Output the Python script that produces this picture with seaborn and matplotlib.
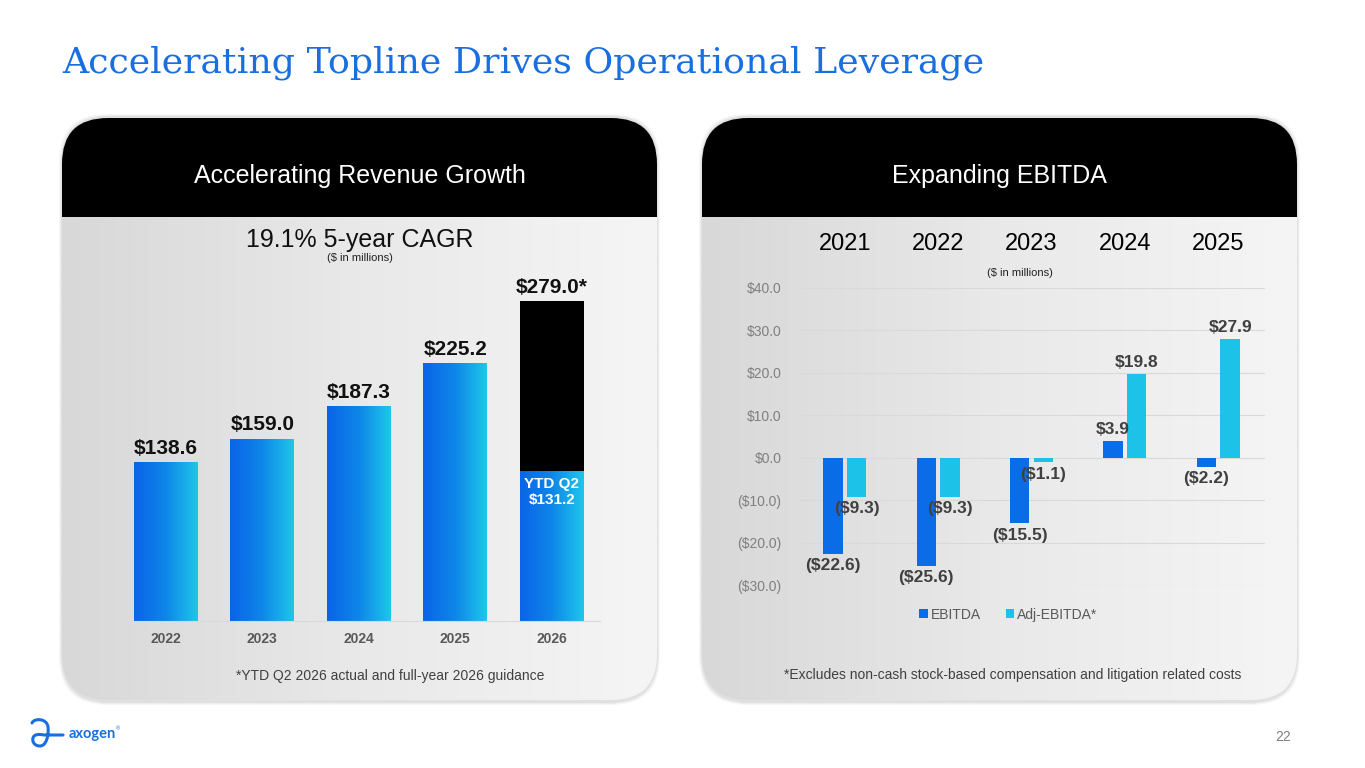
import numpy as np
import pandas as pd
import matplotlib
matplotlib.use('Agg')
import matplotlib.pyplot as plt
import seaborn as sns
from matplotlib.patches import FancyBboxPatch, Rectangle, PathPatch
from matplotlib.path import Path
from matplotlib.colors import LinearSegmentedColormap


# revenue panel
rev_years = ['2022', '2023', '2024', '2025', '2026']
rev_values = [138.6, 159.0, 187.3, 225.2, 279.0]
rev_labels = ['$138.6', '$159.0', '$187.3', '$225.2', '$279.0*']
ytd_2026 = 131.2

# ebitda panel
eb_years = ['2021', '2022', '2023', '2024', '2025']
ebitda = [-22.6, -25.6, -15.5, 3.9, -2.2]
adj_ebitda = [-9.3, -9.3, -1.1, 19.8, 27.9]

BLUE = '#0b6ce8'
CYAN = '#1cc2e8'
TITLE_BLUE = '#1a6fe0'


def money(v):
    return f'${v:.1f}' if v >= 0 else f'(${-v:.1f})'


sns.set_style('white')
plt.rcParams['font.family'] = ['Liberation Sans', 'DejaVu Sans']

W, H = 1365, 768
fig = plt.figure(figsize=(W / 100, H / 100), dpi=100)
fig.patch.set_facecolor('white')

# background axes in pixel units
bg = fig.add_axes([0, 0, 1, 1])
bg.set_xlim(0, W)
bg.set_ylim(H, 0)
bg.axis('off')
bg.set_zorder(0)

panel_cmap = LinearSegmentedColormap.from_list('panel', ['#d8d8d8', '#e9e9e9', '#f5f5f5'])
grad = np.linspace(0, 1, 256).reshape(1, -1)


def panel(x0, x1, y0, y1, head_y, header):
    # soft shadow
    for i, a in enumerate([0.05, 0.04, 0.03]):
        s = FancyBboxPatch((x0 - 1 - i, y0 - 2 - i), x1 - x0 + 2 + 2 * i, y1 - y0 + 5 + 2 * i,
                           boxstyle='round,pad=0,rounding_size=48', fc='black', ec='none', alpha=a)
        bg.add_patch(s)
    p = FancyBboxPatch((x0, y0), x1 - x0, y1 - y0, boxstyle='round,pad=0,rounding_size=46',
                       fc='#e6e6e6', ec='none')
    bg.add_patch(p)
    im = bg.imshow(grad, extent=[x0, x1, y1, y0], cmap=panel_cmap, aspect='auto', zorder=1)
    im.set_clip_path(p)
    r = Rectangle((x0, y0), x1 - x0, head_y - y0, fc='black', ec='none', zorder=2)
    bg.add_patch(r)
    r.set_clip_path(p)
    bg.text((x0 + x1) / 2, (y0 + head_y) / 2 + 8, header, color='white', fontsize=18,
            ha='center', va='center', zorder=3)


panel(62, 657, 118, 700, 217, 'Accelerating Revenue Growth')
panel(702, 1297, 118, 700, 217, 'Expanding EBITDA')
bg.set_xlim(0, W)
bg.set_ylim(H, 0)

bg.text(62, 72, 'Accelerating Topline Drives Operational Leverage', family='DejaVu Serif',
        fontsize=26.2, color=TITLE_BLUE, ha='left', va='baseline')

bg.text(360, 240, '19.1% 5-year CAGR', fontsize=18, ha='center', va='center', color='#111111', zorder=3)
bg.text(360, 258, '($ in millions)', fontsize=8, ha='center', va='center', color='#222222', zorder=3)
bg.text(390, 676, '*YTD Q2 2026 actual and full-year 2026 guidance', fontsize=10,
        ha='center', va='center', color='#404040', zorder=3)
bg.text(1013, 675, '*Excludes non-cash stock-based compensation and litigation related costs',
        fontsize=10, ha='center', va='center', color='#404040', zorder=3)
bg.text(1283, 737, '22', fontsize=10, ha='center', va='center', color='#808080')

# logo
logo = Path([(32, 723), (34, 718), (47, 718), (48, 727), (49, 736), (46, 746), (40, 746),
             (34, 746), (32, 741), (33, 738), (34, 734), (39, 734), (44, 735), (63, 735)],
            [Path.MOVETO] + [Path.CURVE4] * 12 + [Path.LINETO])
bg.add_patch(PathPatch(logo, fc='none', ec=TITLE_BLUE, lw=2.2, capstyle='round'))
bg.text(69, 734, 'axogen', family='Lato', fontweight='bold', fontsize=10.5,
        color=TITLE_BLUE, ha='left', va='center')
bg.text(116, 729, '®', fontsize=4, color=TITLE_BLUE, ha='left', va='center')

bar_cmap = LinearSegmentedColormap.from_list('bar', ['#0a64e8', '#0e86e8', '#1fc6ea'])


def gradient_bars(ax, bars):
    for b in bars:
        x, y = b.get_x(), b.get_y()
        w, h = b.get_width(), b.get_height()
        im = ax.imshow(grad, extent=[x, x + w, y, y + h], cmap=bar_cmap, aspect='auto', zorder=1.5)
        im.set_clip_path(b)


# ---- left chart ----
ax1 = fig.add_axes([132 / W, (H - 621) / H, 468 / W, 351 / H])
ax1.set_zorder(2)
ax1.patch.set_alpha(0)
lower = rev_values[:4] + [ytd_2026]
sns.barplot(x=rev_years, y=rev_values, color='black', width=0.66, errorbar=None, saturation=1,
            linewidth=0, ax=ax1)
sns.barplot(x=rev_years, y=lower, color=BLUE, width=0.66, errorbar=None, saturation=1,
            linewidth=0, ax=ax1)
gradient_bars(ax1, ax1.containers[1])
ax1.bar_label(ax1.containers[0], labels=rev_labels, padding=3, fontsize=15,
              fontweight='bold', color='#111111')
ax1.annotate(f'YTD Q2\n${ytd_2026:.1f}', xy=(4, ytd_2026), xytext=(0, -5), textcoords='offset points',
             ha='center', va='top', color='white', fontsize=11, fontweight='bold', zorder=4,
             linespacing=1.15)
ax1.set_xlim(-0.35, 4.5)
ax1.set_ylim(0, 306)
sns.despine(ax=ax1, left=True)
ax1.spines['bottom'].set_color('#d9d9d9')
ax1.set_yticks([])
ax1.tick_params(axis='x', length=0, pad=8, labelsize=10, labelcolor='#595959')
for t in ax1.get_xticklabels():
    t.set_fontweight('bold')

# ---- right chart ----
df = pd.DataFrame({
    'year': eb_years * 2,
    'metric': ['EBITDA'] * 5 + ['Adj-EBITDA*'] * 5,
    'value': ebitda + adj_ebitda,
})
ax2 = fig.add_axes([798 / W, (H - 585) / H, 467 / W, 297 / H])
ax2.set_zorder(2)
ax2.patch.set_alpha(0)
sns.barplot(data=df, x='year', y='value', hue='metric', palette=[BLUE, CYAN], width=0.505,
            gap=0.17, errorbar=None, saturation=1, linewidth=0, ax=ax2)
for cont in ax2.containers:
    ax2.bar_label(cont, labels=[money(b.get_height()) for b in cont], padding=3,
                  fontsize=12.5, fontweight='bold', color='#404040')
ax2.set_ylim(-30, 40)
ax2.set_xlim(-0.5, 4.5)
ax2.set_yticks(range(-30, 41, 10))
ax2.set_yticklabels([money(v) for v in range(-30, 41, 10)])
ax2.yaxis.grid(True, color='#d9d9d9', lw=0.8)
ax2.set_axisbelow(True)
sns.despine(ax=ax2, left=True, bottom=True)
ax2.set_xlabel('')
ax2.set_ylabel('')
ax2.xaxis.tick_top()
ax2.tick_params(axis='x', length=0, pad=24, labelsize=17, labelcolor='black')
ax2.tick_params(axis='y', length=0, pad=12, labelsize=10, labelcolor='#7f7f7f')
ax2.annotate('($ in millions)', xy=(2, 1), xycoords=('data', 'axes fraction'), xytext=(-8, 11),
             textcoords='offset points', ha='center', va='center', fontsize=8, color='#222222')
handles, labels = ax2.get_legend_handles_labels()
ax2.legend(handles, labels, loc='center', bbox_to_anchor=(0.45, -0.1), ncol=2, frameon=False,
           fontsize=10, handlelength=0.6, handleheight=0.6, handletextpad=0.2,
           columnspacing=1.8, labelcolor='#595959')

fig.savefig('out.png', dpi=100)
